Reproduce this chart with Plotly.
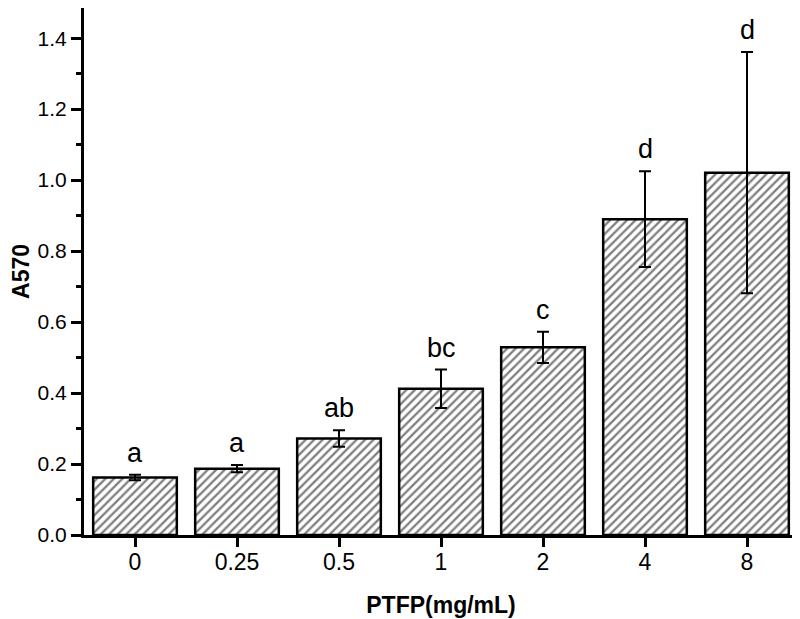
import plotly.graph_objects as go

categories = ["0", "0.25", "0.5", "1", "2", "4", "8"]
values = [0.162, 0.187, 0.272, 0.412, 0.529, 0.890, 1.021]
errors = [0.008, 0.010, 0.023, 0.054, 0.044, 0.135, 0.340]
letters = ["a", "a", "ab", "bc", "c", "d", "d"]

FONT = "Liberation Sans, Arial, sans-serif"

fig = go.Figure()
fig.add_trace(go.Bar(
    x=list(range(len(categories))), y=values, width=0.82,
    marker=dict(color="white", line=dict(color="black", width=2.5),
                pattern=dict(shape="/", fgcolor="black", bgcolor="white", size=6, solidity=0.38)),
    error_y=dict(type="data", array=errors, visible=True, color="black", thickness=2, width=6),
    showlegend=False,
))

for i, (v, e, t) in enumerate(zip(values, errors, letters)):
    fig.add_annotation(x=i, y=v + e, text=t, showarrow=False, yanchor="bottom", yshift=5,
                       font=dict(family=FONT, size=27, color="black"))

# page body has an 8px margin; figure is sized/offset to compensate
fig.update_layout(
    width=792, height=611,
    margin=dict(l=76, r=2, t=0, b=84),
    paper_bgcolor="white", plot_bgcolor="white",
    font=dict(family=FONT, color="black"),
)
fig.update_xaxes(
    range=[-0.5, 6.5],
    tickvals=list(range(len(categories))), ticktext=categories,
    showline=True, linecolor="black", linewidth=3,
    ticks="outside", ticklen=9, tickwidth=3, tickcolor="black",
    tickfont=dict(size=23, family=FONT), ticklabelstandoff=-5,
    title=dict(text="<b>PTFP(mg/mL)</b>", font=dict(size=23, family=FONT), standoff=24),
    showgrid=False, zeroline=False, automargin=False,
)
fig.update_yaxes(
    range=[0, 1.485],
    tickvals=[0, 0.2, 0.4, 0.6, 0.8, 1.0, 1.2, 1.4],
    ticktext=["0.0", "0.2", "0.4", "0.6", "0.8", "1.0", "1.2", "1.4"],
    showline=True, linecolor="black", linewidth=3,
    ticks="outside", ticklen=10, tickwidth=3, tickcolor="black",
    minor=dict(dtick=0.1, ticks="outside", ticklen=5, tickwidth=3, tickcolor="black", showgrid=False),
    tickfont=dict(size=21, family=FONT),
    title=dict(text="<b>A570</b>", font=dict(size=23, family=FONT), standoff=12),
    showgrid=False, zeroline=False, automargin=False,
)

fig.write_html("out.html")
